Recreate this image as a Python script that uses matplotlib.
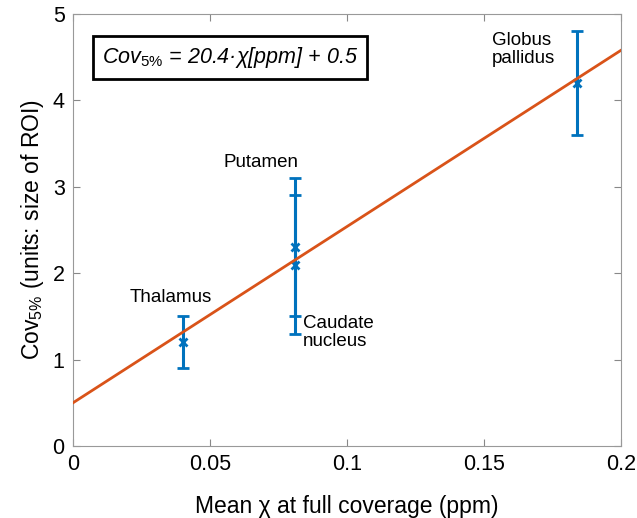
import numpy as np
import matplotlib.pyplot as plt

plt.rcParams['font.family'] = ['Liberation Sans', 'DejaVu Sans']
plt.rcParams['mathtext.fontset'] = 'custom'
plt.rcParams['mathtext.rm'] = 'Liberation Sans'
plt.rcParams['mathtext.it'] = 'Liberation Sans:italic'

regions = ['Thalamus', 'Putamen', 'Caudate\nnucleus', 'Globus\npallidus']
chi = [0.040, 0.081, 0.081, 0.184]
cov_mean = [1.2, 2.3, 2.1, 4.2]
cov_low = [0.9, 1.5, 1.3, 3.6]
cov_high = [1.5, 3.1, 2.9, 4.8]

slope = 20.4
intercept = 0.5

blue = '#0072BD'
orange = '#D95319'

fig = plt.figure(figsize=(6.37, 5.18), dpi=100)
ax = fig.add_axes([73 / 637, 72 / 518, 548 / 637, 432 / 518])

# fit line
xfit = np.array([0, 0.2])
ax.plot(xfit, slope * xfit + intercept, color=orange, linewidth=2, zorder=3)

# error bars
mean = np.array(cov_mean)
yerr = [mean - np.array(cov_low), np.array(cov_high) - mean]
ax.errorbar(chi, cov_mean, yerr=yerr, fmt='x', color=blue, ecolor=blue,
            elinewidth=2.2, capsize=4, capthick=2.2, markersize=6,
            markeredgewidth=2, zorder=2)

# labels next to points
ax.text(0.0358, 1.72, regions[0], ha='center', va='center', fontsize=13.5)
ax.text(0.0686, 3.28, regions[1], ha='center', va='center', fontsize=13.5)
ax.text(0.0839, 1.31, regions[2], ha='left', va='center', fontsize=13.5,
        linespacing=1.1)
ax.text(0.1529, 4.59, regions[3], ha='left', va='center', fontsize=13.5,
        linespacing=1.1)

# equation box
ax.text(0.0105, 4.5, r'$\mathit{Cov}_{5\%}$ = 20.4·χ[ppm] + 0.5',
        fontsize=15.5, style='italic', ha='left', va='center',
        bbox=dict(boxstyle='square,pad=0.42', facecolor='white',
                  edgecolor='black', linewidth=2))

ax.set_xlim(0, 0.2)
ax.set_ylim(0, 5)
ax.set_xticks([0, 0.05, 0.1, 0.15, 0.2])
ax.set_xticklabels(['0', '0.05', '0.1', '0.15', '0.2'])
ax.set_yticks([0, 1, 2, 3, 4, 5])

ax.tick_params(direction='in', top=True, right=True, labelsize=15.5,
               color='#888888', length=5, pad=6)
for s in ax.spines.values():
    s.set_color('#999999')

ax.set_xlabel('Mean χ at full coverage (ppm)', fontsize=16.5, labelpad=14)
ax.set_ylabel(r'Cov$_{5\%}$ (units: size of ROI)', fontsize=16.5, labelpad=5)

fig.savefig('out.png', dpi=100)
